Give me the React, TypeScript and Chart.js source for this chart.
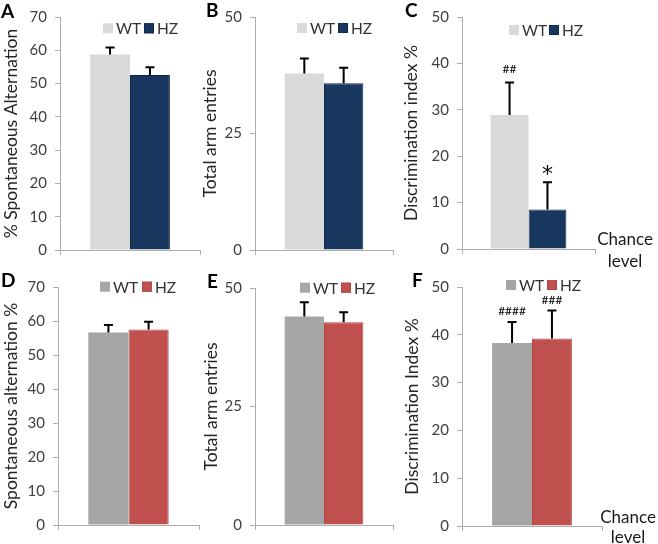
import { useEffect, useRef } from "react";
import { Chart, registerables } from "chart.js";

Chart.register(...registerables);

// ---------- data ----------
const groups = ["WT", "HZ"];
const category = [""];

const altA = [58.7, 52.6];
const altAErr = [2.1, 2.3];
const entriesB = [37.9, 35.8];
const entriesBErr = [3.2, 3.3];
const discC = [28.9, 8.5];
const discCErr = [7.0, 5.9];
const altD = [56.6, 57.5];
const altDErr = [2.2, 2.3];
const entriesE = [44.0, 42.8];
const entriesEErr = [3.0, 2.1];
const discF = [38.3, 39.2];
const discFErr = [4.4, 5.9];

const ticks70 = [0, 10, 20, 30, 40, 50, 60, 70];
const ticks50by25 = [0, 25, 50];
const ticks50by10 = [0, 10, 20, 30, 40, 50];

const marksC = ["##", "*"];
const marksF = ["####", "###"];
const chanceLines = ["Chance", "level"];

// ---------- styles ----------
const topColors = ["#D9D9D9", "#17375E"];
const topBorders = ["#D9D9D9", "#10294A"];
const bottomColors = ["#A6A6A6", "#C0504D"];
const bottomBorders = ["#A6A6A6", "#B34744"];
const axisColor = "#ADADAD";
const FONT = "Lato, 'DejaVu Sans', sans-serif";

type Panel = {
  letter: string;
  title: string;
  means: number[];
  errs: number[];
  ticks: number[];
  colors: string[];
  borders: string[];
  box: [number, number, number, number];
  area: [number, number, number, number];
  letterPos: [number, number];
  legend: [number, number, number];
  marks?: string[];
  markFonts?: string[];
  markOffsets?: number[];
  chance?: [number, number, number];
};

const panels: Panel[] = [
  {
    letter: "A", title: "% Spontaneous Alternation", means: altA, errs: altAErr, ticks: ticks70,
    colors: topColors, borders: topBorders,
    box: [0, 0, 215, 270], area: [60, 200, 15, 250], letterPos: [1, 18], legend: [103, 144, 28.3],
  },
  {
    letter: "B", title: "Total arm entries", means: entriesB, errs: entriesBErr, ticks: ticks50by25,
    colors: topColors, borders: topBorders,
    box: [199, 0, 206, 270], area: [255, 393, 14, 250], letterPos: [206, 17], legend: [297, 338, 28],
  },
  {
    letter: "C", title: "Discrimination index %", means: discC, errs: discCErr, ticks: ticks50by10,
    colors: topColors, borders: topBorders,
    box: [400, 0, 258, 270], area: [462, 595, 14, 249], letterPos: [405, 17], legend: [509, 549, 30],
    marks: marksC, markFonts: [`12px ${FONT}`, `22px 'DejaVu Sans', sans-serif`], markOffsets: [9, 1],
    chance: [625, 245, 267],
  },
  {
    letter: "D", title: "Spontaneous alternation %", means: altD, errs: altDErr, ticks: ticks70,
    colors: bottomColors, borders: bottomBorders,
    box: [0, 270, 215, 274], area: [58, 199, 286, 525], letterPos: [1, 287], legend: [100, 142, 286.7],
  },
  {
    letter: "E", title: "Total arm entries", means: entriesE, errs: entriesEErr, ticks: ticks50by25,
    colors: bottomColors, borders: bottomBorders,
    box: [200, 270, 205, 274], area: [255, 393, 288, 525], letterPos: [207, 288], legend: [300, 341, 287.7],
  },
  {
    letter: "F", title: "Discrimination Index %", means: discF, errs: discFErr, ticks: ticks50by10,
    colors: bottomColors, borders: bottomBorders,
    box: [401, 270, 257, 274], area: [462, 602, 287, 526], letterPos: [412, 287], legend: [506, 547, 285],
    marks: marksF, markFonts: [`12px ${FONT}`, `12px ${FONT}`], markOffsets: [7, 6],
    chance: [628, 523, 543],
  },
];

function PanelChart({ p }: { p: Panel }) {
  const ref = useRef<HTMLCanvasElement>(null);
  useEffect(() => {
    const canvas = ref.current!;
    const [ox, oy, w, h] = p.box;
    const [left, right, top, bottom] = p.area;
    const xAxisH = 8;

    const plugin = {
      id: "extras" + p.letter,
      afterDatasetsDraw(chart: any) {
        const ctx = chart.ctx;
        const yScale = chart.scales.y;
        ctx.save();
        p.means.forEach((m, i) => {
          const bar = chart.getDatasetMeta(i).data[0];
          const x = bar.x;
          const yBase = yScale.getPixelForValue(m);
          const yTop = yScale.getPixelForValue(m + p.errs[i]);
          ctx.strokeStyle = "#000";
          ctx.lineWidth = 2;
          ctx.beginPath();
          ctx.moveTo(x, yBase);
          ctx.lineTo(x, yTop);
          ctx.moveTo(x - 4.5, yTop);
          ctx.lineTo(x + 4.5, yTop);
          ctx.stroke();
          if (p.marks) {
            ctx.fillStyle = "#000";
            ctx.font = p.markFonts![i];
            ctx.textAlign = "center";
            ctx.textBaseline = "alphabetic";
            ctx.fillText(p.marks[i], x, yTop - p.markOffsets![i]);
          }
        });
        ctx.restore();
      },
      afterDraw(chart: any) {
        const ctx = chart.ctx;
        ctx.save();
        // panel letter
        ctx.fillStyle = "#000";
        ctx.font = `bold 19px ${FONT}`;
        ctx.textAlign = "left";
        ctx.textBaseline = "alphabetic";
        ctx.fillText(p.letter, p.letterPos[0] - ox, p.letterPos[1] - oy);
        // legend
        const [wx, hx, ly] = p.legend;
        [wx, hx].forEach((bx, i) => {
          ctx.fillStyle = p.colors[i];
          ctx.fillRect(bx - ox, ly - oy - 5, 10, 10);
          if (i === 1) {
            ctx.strokeStyle = p.borders[i];
            ctx.lineWidth = 1;
            ctx.strokeRect(bx - ox + 0.5, ly - oy - 4.5, 9, 9);
          }
          ctx.fillStyle = "#333";
          ctx.font = `15.5px ${FONT}`;
          ctx.textBaseline = "middle";
          ctx.fillText(groups[i], bx - ox + 13, ly - oy + 1);
        });
        // chance level
        if (p.chance) {
          ctx.fillStyle = "#1a1a1a";
          ctx.font = `17px ${FONT}`;
          ctx.textAlign = "center";
          ctx.textBaseline = "alphabetic";
          ctx.fillText(chanceLines[0], p.chance[0] - ox, p.chance[1] - oy);
          ctx.fillText(chanceLines[1], p.chance[0] - ox, p.chance[2] - oy);
        }
        ctx.restore();
      },
    };

    const chart = new Chart(canvas, {
      type: "bar",
      data: {
        labels: category,
        datasets: groups.map((g, i) => ({
          label: g,
          data: [p.means[i]],
          backgroundColor: p.colors[i],
          borderColor: p.borders[i],
          borderWidth: i === 1 ? 1 : 0,
          categoryPercentage: 0.57,
          barPercentage: 1,
        })),
      },
      options: {
        responsive: false,
        animation: false,
        layout: {
          padding: {
            left: 0,
            top: top - oy,
            right: ox + w - right,
            bottom: oy + h - bottom - xAxisH,
          },
        },
        plugins: {
          legend: { display: false },
          tooltip: { enabled: false },
        },
        scales: {
          x: {
            offset: true,
            grid: {
              display: true,
              drawOnChartArea: false,
              drawTicks: true,
              tickLength: 5,
              color: axisColor,
              offset: true,
            },
            border: { color: axisColor, width: 1 },
            ticks: { display: false },
            afterFit: (s: any) => {
              s.height = xAxisH;
            },
          },
          y: {
            min: p.ticks[0],
            max: p.ticks[p.ticks.length - 1],
            afterBuildTicks: (s: any) => {
              s.ticks = p.ticks.map((v) => ({ value: v }));
            },
            grid: {
              drawOnChartArea: false,
              drawTicks: true,
              tickLength: 5,
              color: axisColor,
            },
            border: { color: axisColor, width: 1 },
            ticks: {
              font: { family: FONT, size: 15 },
              color: "#404040",
              padding: 8,
            },
            title: {
              display: true,
              text: p.title,
              font: { family: FONT, size: 17.5 },
              color: "#262626",
              padding: { top: 1, bottom: 0 },
            },
            afterFit: (s: any) => {
              s.width = left - ox;
            },
          },
        },
      },
      plugins: [plugin],
    } as any);
    return () => chart.destroy();
  }, [p]);

  const [ox, oy, w, h] = p.box;
  return (
    <canvas
      ref={ref}
      width={w}
      height={h}
      style={{ position: "absolute", left: ox, top: oy, width: w, height: h }}
    />
  );
}

export default function App() {
  return (
    <div
      style={{
        position: "absolute",
        left: 0,
        top: 0,
        width: 658,
        height: 544,
        background: "#fff",
        overflow: "hidden",
      }}
    >
      {panels.map((p) => (
        <PanelChart key={p.letter} p={p} />
      ))}
    </div>
  );
}
